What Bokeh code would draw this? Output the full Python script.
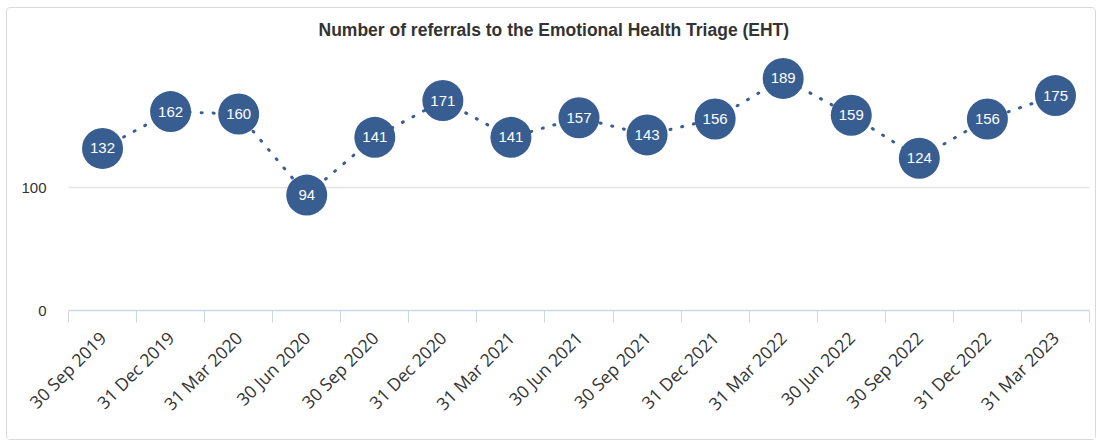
import math
from bokeh.plotting import figure
from bokeh.models import ColumnDataSource, FixedTicker, Range1d
from bokeh.core.properties import value
from bokeh.embed import file_html
from bokeh.resources import INLINE

title = "Number of referrals to the Emotional Health Triage (EHT)"
quarters = ["30 Sep 2019", "31 Dec 2019", "31 Mar 2020", "30 Jun 2020", "30 Sep 2020",
            "31 Dec 2020", "31 Mar 2021", "30 Jun 2021", "30 Sep 2021", "31 Dec 2021",
            "31 Mar 2022", "30 Jun 2022", "30 Sep 2022", "31 Dec 2022", "31 Mar 2023"]
referrals = [132, 162, 160, 94, 141, 171, 141, 157, 143, 156, 189, 159, 124, 156, 175]
y_ticks = [0, 100]

BLUE = "#385d91"
n = len(quarters)
xs = [i + 0.5 for i in range(n)]
src = ColumnDataSource(dict(x=xs, y=referrals, label=[str(v) for v in referrals]))

p = figure(width=1090, height=433, output_backend="svg", toolbar_location=None,
           x_range=Range1d(0, n), y_range=Range1d(0, 215),
           min_border_left=61, min_border_right=8, min_border_top=38, min_border_bottom=131,
           title=title)
p.outline_line_color = None
p.background_fill_color = "white"
p.border_fill_color = "white"
p.styles = {"border": "1px solid #d9d9d9", "border-radius": "4px",
            "margin-left": "6px", "margin-top": "7px"}

p.title.align = "left"
p.title.offset = 250
p.title.standoff = 13
p.title.text_font = "Liberation Sans"
p.title.text_font_size = "17.5px"
p.title.text_font_style = "bold"
p.title.text_color = "#333333"

# x axis
xa = p.xaxis[0]
xa.ticker = FixedTicker(ticks=xs, minor_ticks=list(range(n + 1)))
xa.major_label_overrides = {x: q for x, q in zip(xs, quarters)}
xa.major_label_orientation = math.pi / 4
xa.major_tick_out = 0
xa.major_tick_in = 0
xa.minor_tick_out = 12
xa.minor_tick_in = 0
xa.minor_tick_line_color = "#ccd6eb"
xa.axis_line_color = "#ccd6eb"
xa.axis_line_width = 1.5
xa.major_label_standoff = 12
xa.major_label_text_font = "Open Sans"
xa.major_label_text_font_size = "17.5px"
xa.major_label_text_color = "#333333"

# y axis
ya = p.yaxis[0]
ya.ticker = FixedTicker(ticks=y_ticks)
ya.axis_line_color = None
ya.major_tick_line_color = None
ya.minor_tick_line_color = None
ya.major_tick_out = 0
ya.major_label_standoff = 22
ya.major_label_text_font = "Liberation Sans"
ya.major_label_text_font_size = "15px"
ya.major_label_text_color = "#333333"

p.xgrid.grid_line_color = None
p.ygrid.grid_line_color = "#e3e3e3"
p.ygrid.grid_line_width = 1.5

p.line("x", "y", source=src, line_color=BLUE, line_width=3, line_dash="1 11", line_cap="round")
p.scatter("x", "y", source=src, size=41, fill_color=BLUE, line_color=None)
p.text("x", "y", text="label", source=src, text_color="white", text_align="center",
       text_baseline="middle", text_font=value("Liberation Sans"), text_font_size="15px")

open("out.html", "w").write(file_html(p, INLINE))
